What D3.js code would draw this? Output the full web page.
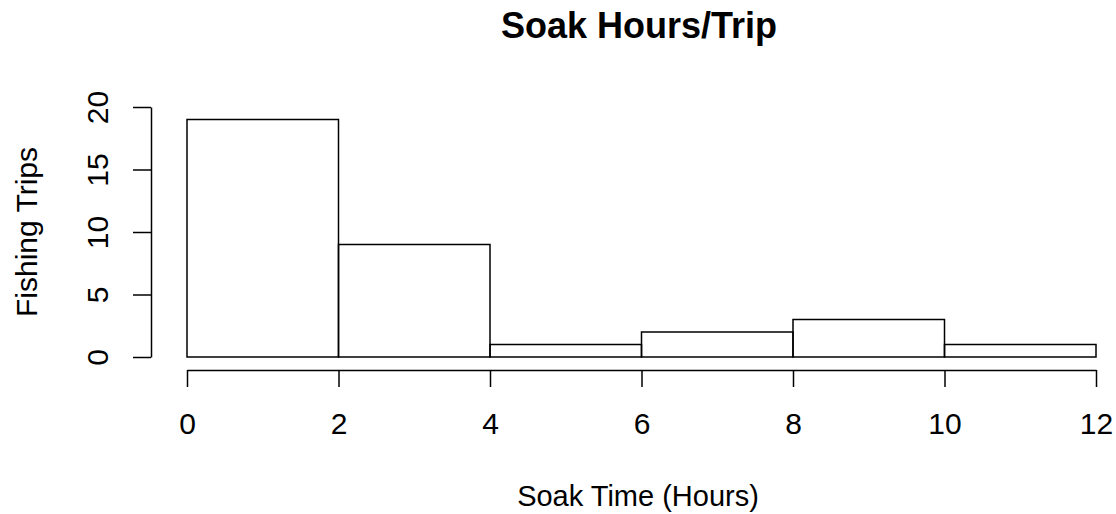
<!DOCTYPE html>
<html>
<head>
<meta charset="utf-8">
<script src="https://cdn.jsdelivr.net/npm/d3@7"></script>
<style>
  body { margin: 0; background: #fff; }
  text { font-family: "Liberation Sans", Arial, sans-serif; fill: #000; }
</style>
</head>
<body>
<svg id="chart" width="1116" height="514"></svg>
<script>
// histogram bins (hours) and counts
let binStarts = [0, 2, 4, 6, 8, 10];
let binEnds = [2, 4, 6, 8, 10, 12];
let counts = [19, 9, 1, 2, 3, 1];
let xTicks = [0, 2, 4, 6, 8, 10, 12];
let yTicks = [0, 5, 10, 15, 20];

let svg = d3.select("#chart");

let x = d3.scaleLinear().domain([0, 12]).range([187, 1096]);
let y = d3.scaleLinear().domain([0, 20]).range([357, 107]);

let bins = binStarts.map(function(d, i){
    return {x0: d, x1: binEnds[i], n: counts[i]};
});

// bars
svg.append("g").selectAll("rect").data(bins)
    .enter()
    .append("rect")
    .attr("x", function(d){ return x(d.x0); })
    .attr("y", function(d){ return y(d.n); })
    .attr("width", function(d){ return x(d.x1) - x(d.x0); })
    .attr("height", function(d){ return y(0) - y(d.n); })
    .attr("fill", "none")
    .attr("stroke", "#000")
    .attr("stroke-width", 1.5);

// x axis
let xAxis = svg.append("g")
    .attr("transform", "translate(0,370)")
    .call(d3.axisBottom(x).tickValues(xTicks).tickSize(17).tickSizeOuter(0));

xAxis.selectAll("path, line").attr("stroke", "#000").attr("stroke-width", 1.5);
xAxis.selectAll("text")
    .attr("y", 64)
    .attr("dy", "0")
    .style("font-size", "30px")
    .style("font-family", "'Liberation Sans', Arial, sans-serif");

// y axis
let yAxis = svg.append("g")
    .attr("transform", "translate(151,0)")
    .call(d3.axisLeft(y).tickValues(yTicks).tickSize(18).tickSizeOuter(0));

yAxis.selectAll("path, line").attr("stroke", "#000").attr("stroke-width", 1.5);
yAxis.selectAll("text")
    .attr("x", 0)
    .attr("dy", "0")
    .attr("transform", "translate(-43,0) rotate(-90)")
    .attr("text-anchor", "middle")
    .style("font-size", "30px")
    .style("font-family", "'Liberation Sans', Arial, sans-serif");

svg.selectAll(".domain").attr("fill", "none");

// title and labels
svg.append("text")
    .attr("x", 639)
    .attr("y", 38)
    .attr("text-anchor", "middle")
    .style("font-size", "36px")
    .style("font-weight", "bold")
    .text("Soak Hours/Trip");

svg.append("text")
    .attr("x", 638)
    .attr("y", 506)
    .attr("text-anchor", "middle")
    .style("font-size", "29px")
    .text("Soak Time (Hours)");

svg.append("text")
    .attr("transform", "translate(37,232) rotate(-90)")
    .attr("text-anchor", "middle")
    .style("font-size", "30px")
    .text("Fishing Trips");
</script>
</body>
</html>
